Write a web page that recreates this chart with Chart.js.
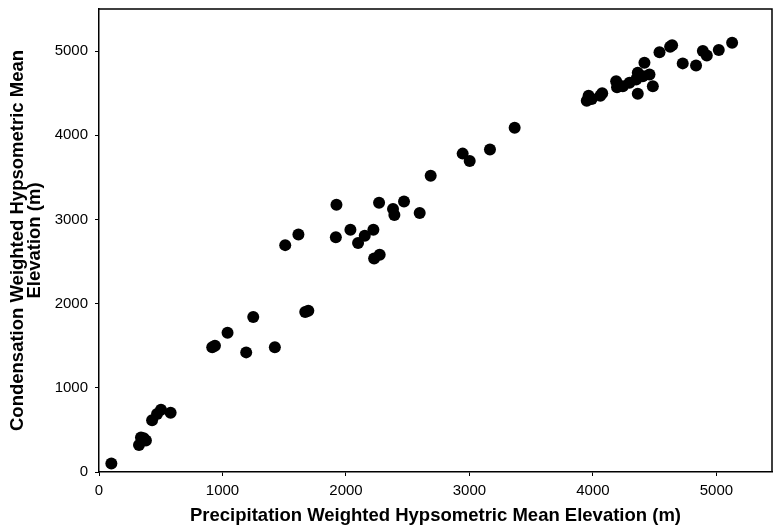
<!DOCTYPE html>
<html>
<head>
<meta charset="utf-8">
<script src="https://cdn.jsdelivr.net/npm/chart.js@4/dist/chart.umd.min.js"></script>
<style>
  html, body { margin: 0; padding: 0; background: #fff; }
  #wrap { width: 773px; height: 525px; position: relative; }
</style>
</head>
<body>
<div id="wrap"><canvas id="c" width="773" height="525"></canvas></div>
<script>
// Precipitation weighted hypsometric mean elevation (m) — x values
const precipElev = [
  100, 324, 340, 362, 380, 430, 470, 502, 580,
  917, 939, 1041, 1192, 1424, 1249, 1508, 1615, 1670, 1695,
  1923, 1918, 2036, 2098, 2152, 2222, 2228, 2273, 2268, 2381, 2392, 2470, 2597, 2686,
  2945, 3002, 3166, 3366,
  3950, 3965, 3990, 4060, 4075, 4188, 4195, 4242, 4296, 4350, 4363, 4417, 4458, 4404,
  4363, 4485, 4539, 4625, 4641, 4727, 4835, 4890, 4922, 5019, 5127
];
// Condensation weighted hypsometric mean elevation (m) — y values
const condElev = [
  100, 320, 410, 400, 375, 615, 690, 740, 705,
  1481, 1500, 1655, 1421, 1481, 1842, 2695, 2822, 1900, 1915,
  3175, 2790, 2877, 2719, 2806, 2877, 2536, 2580, 3199, 3124, 3052, 3214, 3076, 3520,
  3782, 3695, 3830, 4088,
  4410, 4470, 4430, 4470, 4500, 4643, 4570, 4583, 4624, 4663, 4743, 4862, 4722, 4702,
  4493, 4583, 4985, 5052, 5068, 4854, 4830, 5000, 4949, 5012, 5100
];
const xTicks = [0, 1000, 2000, 3000, 4000, 5000];
const yTicks = [0, 1000, 2000, 3000, 4000, 5000];
const xTitle = 'Precipitation Weighted Hypsometric Mean Elevation (m)';
const yTitle = ['Condensation Weighted Hypsometric Mean', 'Elevation (m)'];

const points = precipElev.map((x, i) => ({ x: x, y: condElev[i] }));

const frame = {
  id: 'frame',
  afterDraw(chart) {
    const { ctx, chartArea: a } = chart;
    ctx.save();
    ctx.strokeStyle = '#000';
    ctx.lineWidth = 1.5;
    ctx.beginPath();
    ctx.moveTo(a.left, a.top);
    ctx.lineTo(a.right, a.top);
    ctx.lineTo(a.right, a.bottom);
    ctx.stroke();
    ctx.restore();
  }
};

const tickFont = { family: 'Arial, "Liberation Sans", sans-serif', size: 15 };
const titleFont = { family: 'Arial, "Liberation Sans", sans-serif', size: 18.5, weight: 'bold', lineHeight: 0.92 };
const noPad = s => { s.paddingTop = 0; s.paddingBottom = 0; s.paddingLeft = 0; s.paddingRight = 0; };
const plain = v => String(v);

new Chart(document.getElementById('c'), {
  type: 'scatter',
  data: {
    datasets: [{
      data: points,
      backgroundColor: '#000',
      borderColor: '#000',
      borderWidth: 0,
      pointRadius: 6,
      pointHoverRadius: 6,
      clip: false
    }]
  },
  plugins: [frame],
  options: {
    responsive: false,
    animation: false,
    layout: { autoPadding: false, padding: { top: 9, right: 1, left: 0, bottom: 0 } },
    plugins: { legend: { display: false }, tooltip: { enabled: false } },
    scales: {
      x: {
        type: 'linear',
        min: 0, max: 5450,
        afterBuildTicks: s => { s.ticks = xTicks.map(v => ({ value: v })); },
        afterFit: s => { s.height = 53; noPad(s); },
        ticks: { color: '#000', font: tickFont, padding: 6, maxRotation: 0, callback: plain },
        grid: { display: true, drawOnChartArea: false, drawTicks: true, tickLength: 4, color: '#000' },
        border: { display: true, color: '#000', width: 1.5 },
        title: { display: true, text: xTitle, color: '#000', font: titleFont, padding: { top: 0, bottom: 1 } }
      },
      y: {
        type: 'linear',
        min: 0, max: 5500,
        afterBuildTicks: s => { s.ticks = yTicks.map(v => ({ value: v })); },
        afterFit: s => { s.width = 99; noPad(s); },
        ticks: { color: '#000', font: tickFont, padding: 7, callback: plain },
        grid: { display: true, drawOnChartArea: false, drawTicks: true, tickLength: 4, color: '#000' },
        border: { display: true, color: '#000', width: 1.5 },
        title: { display: true, text: yTitle, color: '#000', font: titleFont, padding: { top: 9, bottom: 0 } }
      }
    }
  }
});
</script>
</body>
</html>
